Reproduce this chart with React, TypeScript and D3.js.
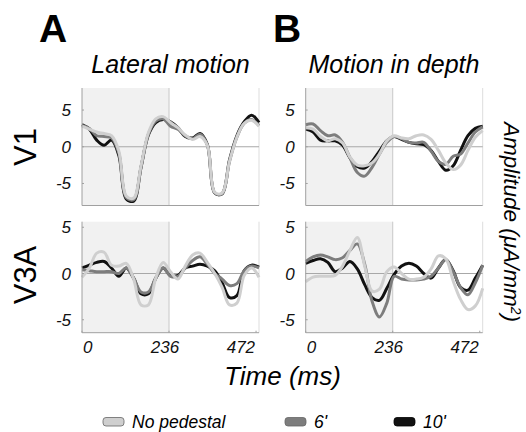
import * as d3 from "d3";

// time samples (ms)
const times = d3.range(0, 481, 20);

const conditions = ["No pedestal", "6'", "10'"];
const colors = ["#cfcfcf", "#7d7d7d", "#111111"];

// V1, lateral motion
const v1LatNoPed = [2.8, 2.4, 2.0, 1.8, 1.5, -0.6, -6.7, -7.0, -2.6, 1.9, 3.8, 4.1, 3.3, 2.6, 1.6, 1.0, 1.4, 0.2, -6.2, -6.3, -2.0, 1.3, 3.2, 3.6, 2.8];
const v1Lat6 = [2.9, 2.5, 1.5, 1.4, 1.2, -0.9, -6.9, -7.2, -2.8, 1.7, 3.5, 3.8, 2.8, 2.4, 1.5, 1.1, 1.7, 0.2, -6.3, -6.4, -2.0, 1.3, 3.2, 3.7, 2.9];
const v1Lat10 = [3.0, 2.4, 0.9, 0.2, 0.9, -1.2, -7.1, -7.4, -2.8, 1.6, 3.3, 3.7, 3.4, 2.6, 1.4, 1.2, 1.8, 0.3, -6.3, -6.4, -1.8, 1.5, 3.4, 4.3, 3.3];

// V1, motion in depth
const v1DepNoPed = [2.6, 2.4, 1.4, 0.8, 1.1, 0.5, -1.4, -2.5, -2.6, -2.2, -1.0, 0.8, 1.5, 1.2, 1.1, 1.5, 1.6, 1.0, -0.5, -2.2, -3.1, -2.5, -0.5, 1.3, 2.2];
const v1Dep6 = [3.0, 3.1, 2.2, 1.5, 1.6, 0.6, -1.5, -3.5, -4.0, -2.8, -1.0, 0.6, 1.4, 1.1, 0.6, 0.5, 0.6, -0.6, -2.0, -2.4, -1.3, -1.0, 0.5, 2.0, 2.7];
const v1Dep10 = [2.4, 2.0, 0.9, 0.8, 0.8, 0.2, -1.5, -2.7, -2.9, -2.0, -0.6, 0.8, 1.4, 1.0, 0.6, 0.4, 0.3, -0.5, -2.0, -3.2, -2.6, -0.5, 1.5, 2.5, 2.8];

// V3A, lateral motion
const v3LatNoPed = [-0.4, 0.6, 2.2, 2.3, 0.9, 0.8, 1.1, -0.6, -3.4, -3.4, -0.5, 1.2, 0.2, -0.6, 0.8, 2.0, 2.2, 1.2, 0.0, -1.5, -3.4, -3.2, -0.2, 0.6, -0.4];
const v3Lat6 = [0.4, 0.3, 0.2, 0.2, 0.2, 0.0, 0.6, -0.5, -2.0, -2.0, -0.5, 0.6, -0.3, -0.3, 0.6, 1.4, 1.8, 1.0, 0.0, -0.6, -1.3, -1.1, 0.3, 0.8, 0.6];
const v3Lat10 = [0.6, 0.9, 1.2, 1.3, 0.6, -0.3, 0.6, -0.5, -2.2, -2.2, -0.5, 0.6, -0.2, -0.2, 0.6, 0.8, 1.0, 0.8, 0.3, -1.0, -2.6, -2.4, 0.3, 0.9, 0.7];

// V3A, motion in depth
const v3DepNoPed = [-0.9, -0.4, -0.3, -0.3, -0.2, 0.8, 2.5, 3.9, 0.8, -1.9, -1.7, 0.2, 0.7, 0.0, -0.6, -0.6, -0.4, 0.5, 1.9, 1.6, -0.8, -2.8, -3.9, -3.5, -1.6];
const v3Dep6 = [1.3, 1.8, 2.0, 1.8, 1.5, 1.7, 2.5, 3.2, 1.0, -3.0, -4.7, -3.2, -0.3, -0.6, -0.7, -0.7, -0.6, -0.3, 0.6, 1.5, 0.2, -1.5, -2.3, -1.0, 0.9];
const v3Dep10 = [1.1, 1.4, 1.6, 1.2, 0.2, 0.6, 1.3, 0.5, -1.2, -2.6, -2.9, -1.6, -0.1, 0.8, 1.1, 0.8, 0.0, -0.5, 0.6, 1.5, 0.3, -1.5, -1.8, -0.5, 0.9];

const timeTicks = [0, 236, 472];
const ampTicks = [-5, 0, 5];
const stimEnd = 236;

const font = "'Liberation Sans', Arial, sans-serif";

type PanelProps = {
  left: number;
  top: number;
  height: number;
  domain: [number, number];
  series: number[][];
  showX: boolean;
};

function Panel({ left, top, height, domain, series, showX }: PanelProps) {
  const w = 177;
  const x = d3.scaleLinear().domain([0, 480]).range([left, left + w]);
  const y = d3.scaleLinear().domain(domain).range([top + height, top]);
  const line = d3
    .line<number>()
    .x((_, i) => x(times[i]))
    .y((d) => y(d))
    .curve(d3.curveCatmullRom.alpha(0.5));
  const bottom = top + height;

  return (
    <g>
      <rect x={x(0)} y={top} width={x(stimEnd) - x(0)} height={height} fill="#f1f1f1" />
      <line x1={x(stimEnd)} x2={x(stimEnd)} y1={top} y2={bottom} stroke="#c8c8c8" strokeWidth={1} />
      <line x1={left + w} x2={left + w} y1={top} y2={bottom} stroke="#dddddd" strokeWidth={1} />
      <line x1={left} x2={left + w} y1={y(0)} y2={y(0)} stroke="#a8a8a8" strokeWidth={1} />
      {series.map((s, i) => (
        <path key={i} d={line(s) ?? ""} fill="none" stroke={colors[i]} strokeWidth={3} strokeLinejoin="round" />
      )).reverse()}
      <line x1={left} x2={left} y1={top} y2={bottom} stroke="#a0a0a0" strokeWidth={1} />
      <line x1={left} x2={left + w} y1={bottom} y2={bottom} stroke="#a0a0a0" strokeWidth={1} />
      {ampTicks.map((t) => (
        <g key={t}>
          <line x1={left} x2={left + 2} y1={y(t)} y2={y(t)} stroke="#a0a0a0" />
          <text x={left - 11} y={y(t) + 6} textAnchor="end" fontSize={17} fontStyle="italic" fontFamily={font} fill="#111">
            {t}
          </text>
        </g>
      ))}
      {showX &&
        timeTicks.map((t, i) => (
          <g key={t}>
            <line x1={x(t)} x2={x(t)} y1={bottom} y2={bottom - 2} stroke="#a0a0a0" />
            <text
              x={x(t) + (i === 0 ? 1 : i === 1 ? -4 : -1)}
              y={bottom + 20}
              textAnchor={i === 0 ? "start" : i === 1 ? "middle" : "end"}
              fontSize={17}
              fontStyle="italic"
              fontFamily={font}
              fill="#111"
            >
              {t}
            </text>
          </g>
        ))}
    </g>
  );
}

export default function App() {
  const leftA = 82;
  const leftB = 305.7;
  const v1Top = 88;
  const v1H = 117.5;
  const v3Top = 221.7;
  const v3H = 111;
  const v1Dom: [number, number] = [-8, 8];
  const v3Dom: [number, number] = [-6.4, 5.6];

  const legendX = [103, 285, 394];

  return (
    <svg width={526} height={432} style={{ position: "absolute", left: 0, top: 0, background: "#fff" }}>
      <text x={39} y={41.5} fontSize={39} fontWeight="bold" fontFamily={font}>A</text>
      <text x={273} y={41.5} fontSize={39} fontWeight="bold" fontFamily={font}>B</text>
      <text x={170.5} y={73} textAnchor="middle" fontSize={25} fontStyle="italic" fontFamily={font}>Lateral motion</text>
      <text x={394} y={73} textAnchor="middle" fontSize={25} fontStyle="italic" fontFamily={font}>Motion in depth</text>

      <text transform="translate(36,147) rotate(-90)" textAnchor="middle" fontSize={31} fontFamily={font}>V1</text>
      <text transform="translate(36,275) rotate(-90)" textAnchor="middle" fontSize={31} fontFamily={font}>V3A</text>

      <Panel left={leftA} top={v1Top} height={v1H} domain={v1Dom} series={[v1LatNoPed, v1Lat6, v1Lat10]} showX={false} />
      <Panel left={leftB} top={v1Top} height={v1H} domain={v1Dom} series={[v1DepNoPed, v1Dep6, v1Dep10]} showX={false} />
      <Panel left={leftA} top={v3Top} height={v3H} domain={v3Dom} series={[v3LatNoPed, v3Lat6, v3Lat10]} showX={true} />
      <Panel left={leftB} top={v3Top} height={v3H} domain={v3Dom} series={[v3DepNoPed, v3Dep6, v3Dep10]} showX={true} />

      <text transform="translate(504,222) rotate(90)" textAnchor="middle" fontSize={22.5} fontStyle="italic" fontFamily={font}>
        Amplitude (μA/mm<tspan dy={-7} fontSize={14}>2</tspan><tspan dy={7}>)</tspan>
      </text>
      <text x={282.5} y={385} textAnchor="middle" fontSize={26} fontStyle="italic" fontFamily={font}>Time (ms)</text>

      {conditions.map((c, i) => (
        <g key={c}>
          <rect x={legendX[i]} y={417.5} width={21} height={8.5} rx={3} fill={colors[i]} stroke={i === 2 ? "#000" : "#666"} strokeWidth={0.8} />
          <text x={legendX[i] + 29} y={428} fontSize={17.5} fontStyle="italic" fontFamily={font}>{c}</text>
        </g>
      ))}
    </svg>
  );
}
